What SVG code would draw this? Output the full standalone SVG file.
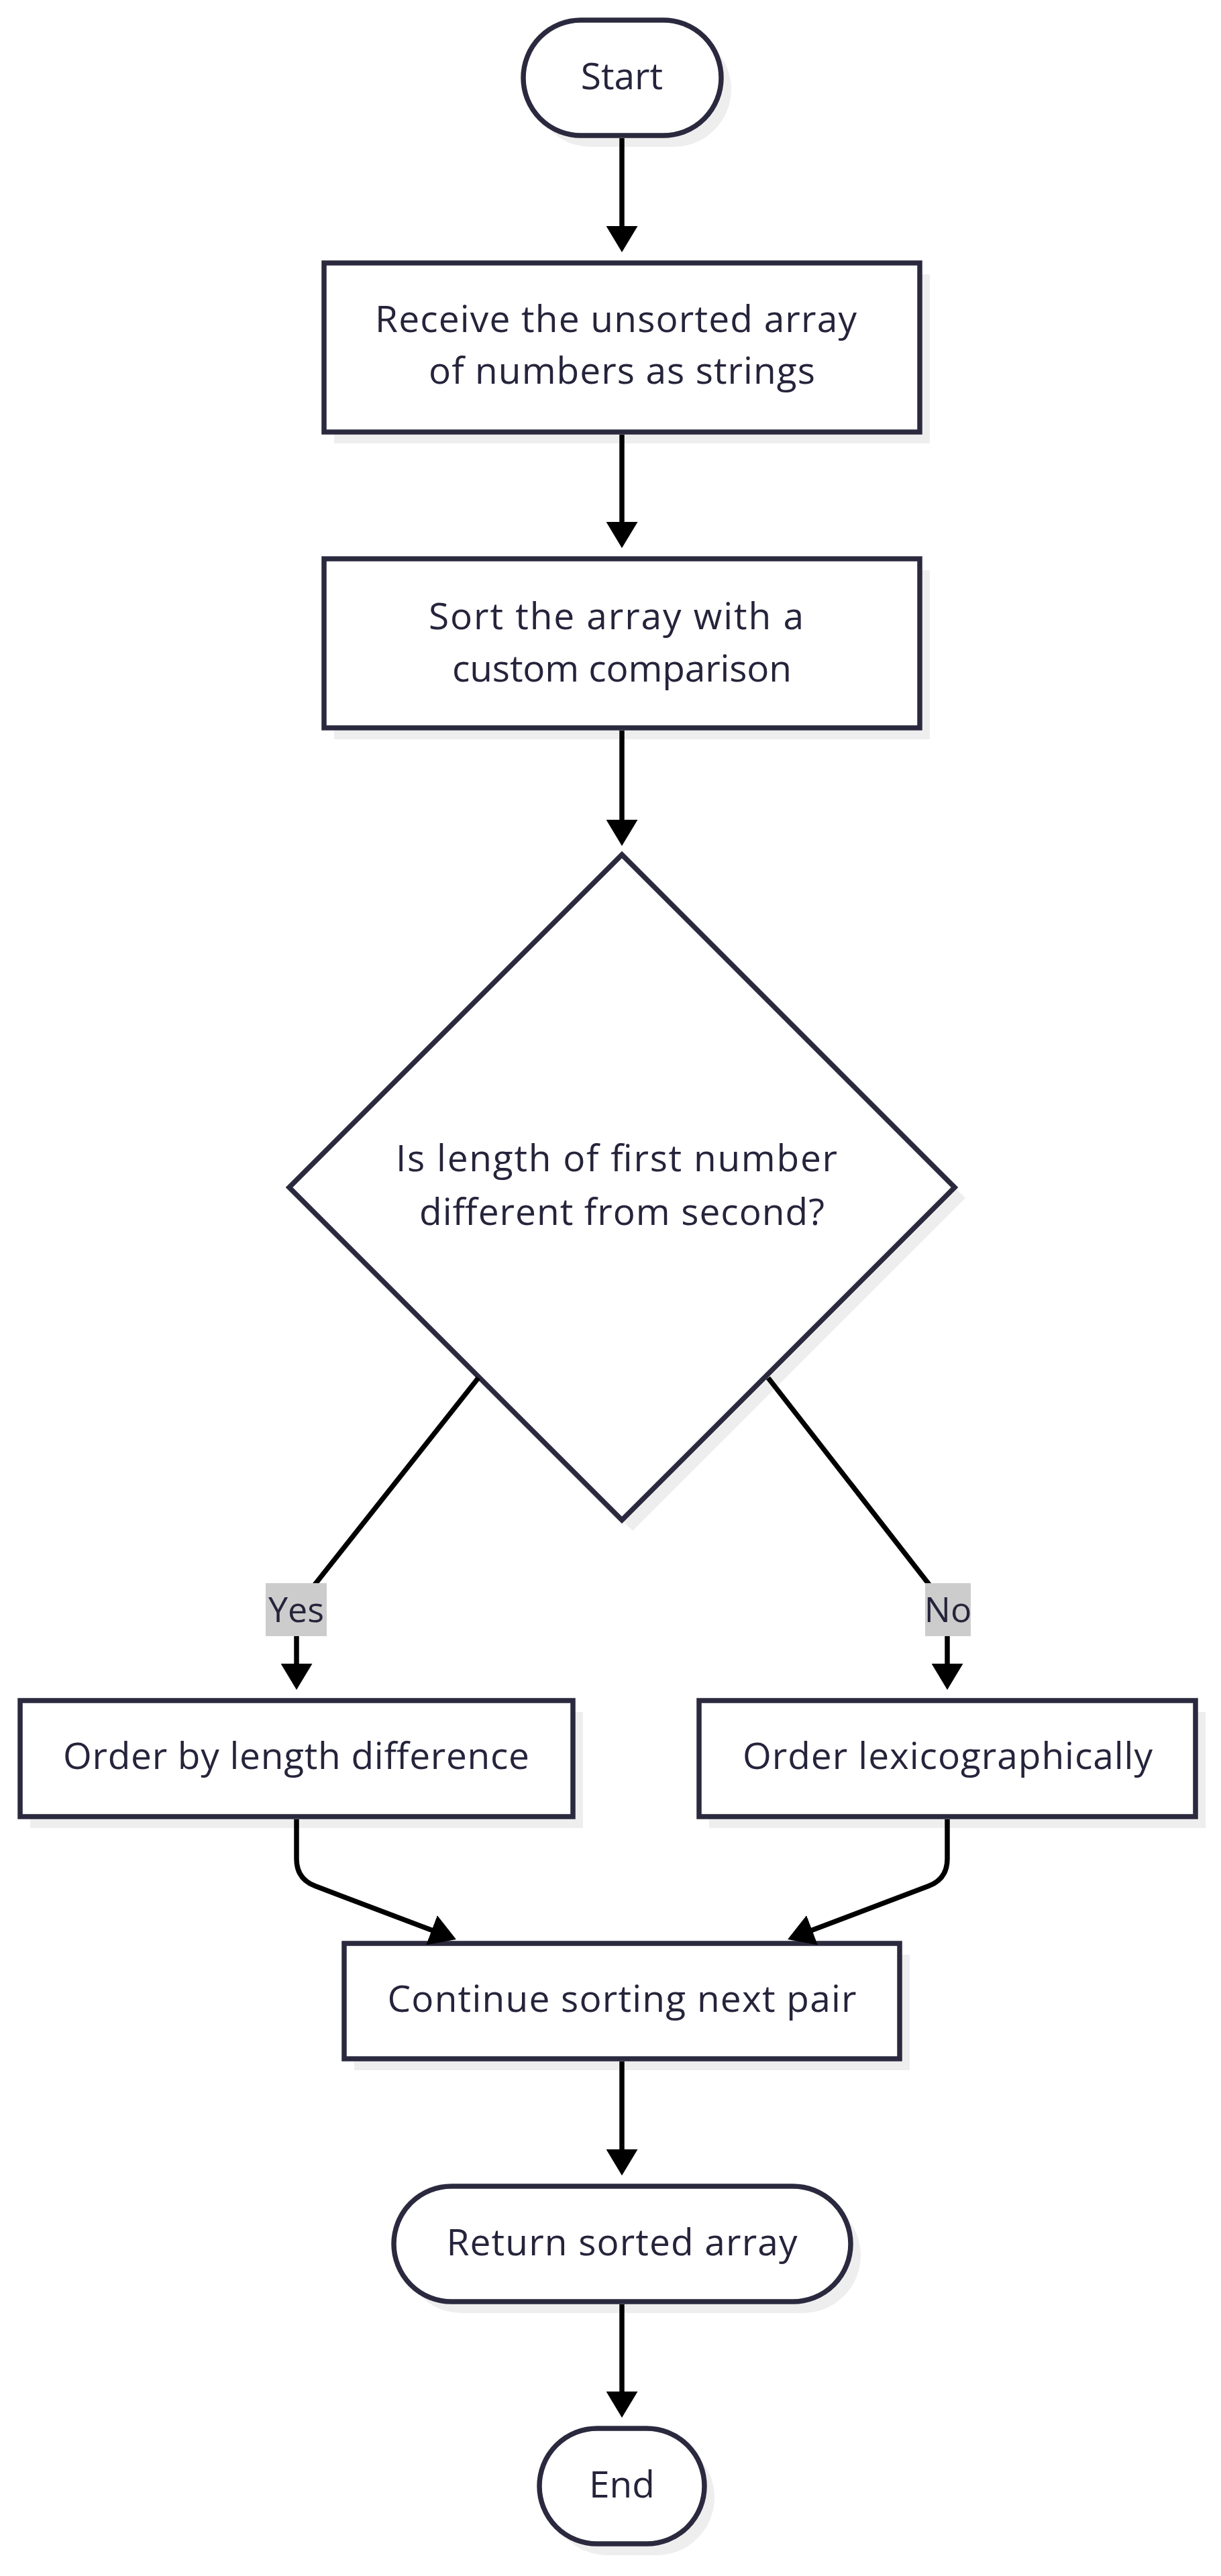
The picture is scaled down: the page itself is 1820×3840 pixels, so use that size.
<svg xmlns="http://www.w3.org/2000/svg" width="1820" height="3840" viewBox="0 0 1820 3840">
<defs>
<style>
.shadow{fill:#eeeeee;stroke:none}
.node{fill:#ffffff;stroke:#2a293e;stroke-width:7.5}
.t{font-family:"Open Sans","Liberation Sans",sans-serif;font-size:55px;fill:#25243b;text-anchor:middle}
.lt{font-family:"Open Sans","Liberation Sans",sans-serif;font-size:52px;fill:#25243b;text-anchor:middle}
.edge{fill:none;stroke:#000000;stroke-width:7.5}
.lbl{fill:#cccccc}
</style>
<marker id="arrow" markerUnits="userSpaceOnUse" viewBox="0 0 39 47" markerWidth="39" markerHeight="47" refX="29" refY="23.5" orient="auto">
<path d="M0,0 L39,23.5 L0,47 z" fill="#000000"/>
</marker>
</defs>
<rect width="1820" height="3840" fill="#ffffff"/>

<g id="node-start">
<rect class="shadow" x="795" y="47" width="295" height="172" rx="86"/>
<rect class="node" x="780" y="30" width="295" height="172" rx="86"/>
<text class="t" x="927" y="133">Start</text>
</g>

<g id="node-receive">
<rect class="shadow" x="498" y="409" width="888" height="252"/>
<rect class="node" x="483" y="392" width="888" height="252"/>
<text class="t" x="918" y="495" textLength="718" lengthAdjust="spacing">Receive the unsorted array</text>
<text class="t" x="927" y="572" textLength="576" lengthAdjust="spacing">of numbers as strings</text>
</g>

<g id="node-sort">
<rect class="shadow" x="498" y="850" width="888" height="252"/>
<rect class="node" x="483" y="833" width="888" height="252"/>
<text class="t" x="918.5" y="938" textLength="559" lengthAdjust="spacing">Sort the array with a</text>
<text class="t" x="927" y="1016" textLength="506" lengthAdjust="spacing">custom comparison</text>
</g>

<g id="node-decision">
<polygon class="shadow" points="943,1290 1439,1786 943,2282 447,1786"/>
<polygon class="node" points="927,1274 1423,1770 927,2266 431,1770"/>
<text class="t" x="919" y="1746" textLength="658" lengthAdjust="spacing">Is length of first number</text>
<text class="t" x="927" y="1826" textLength="604" lengthAdjust="spacing">different from second?</text>
</g>

<g id="node-length">
<rect class="shadow" x="45" y="2552" width="824" height="173"/>
<rect class="node" x="30" y="2535" width="824" height="173"/>
<text class="t" x="441.5" y="2637" textLength="695" lengthAdjust="spacing">Order by length difference</text>
</g>

<g id="node-lexico">
<rect class="shadow" x="1057" y="2552" width="740" height="173"/>
<rect class="node" x="1042" y="2535" width="740" height="173"/>
<text class="t" x="1412.5" y="2637" textLength="611" lengthAdjust="spacing">Order lexicographically</text>
</g>

<g id="node-continue">
<rect class="shadow" x="528" y="2914" width="828" height="172"/>
<rect class="node" x="513" y="2897" width="828" height="172"/>
<text class="t" x="927" y="2999" textLength="699" lengthAdjust="spacing">Continue sorting next pair</text>
</g>

<g id="node-return">
<rect class="shadow" x="602" y="3276" width="681" height="172" rx="86"/>
<rect class="node" x="587" y="3259" width="681" height="172" rx="86"/>
<text class="t" x="927" y="3362" textLength="523" lengthAdjust="spacing">Return sorted array</text>
</g>

<g id="node-end">
<rect class="shadow" x="819" y="3637" width="246" height="172" rx="86"/>
<rect class="node" x="804" y="3620" width="246" height="172" rx="86"/>
<text class="t" x="927" y="3723">End</text>
</g>

<g id="connectors">
<path class="edge" d="M927,206 L927,366" marker-end="url(#arrow)"/>
<path class="edge" d="M927,648 L927,807" marker-end="url(#arrow)"/>
<path class="edge" d="M927,1089 L927,1251" marker-end="url(#arrow)"/>
<path class="edge" d="M713,2054 L455,2380 Q442,2397 442,2420 L442,2509" marker-end="url(#arrow)"/>
<path class="edge" d="M1145,2054 L1399,2380 Q1412,2397 1412,2420 L1412,2509" marker-end="url(#arrow)"/>
<path class="edge" d="M442,2712 L442,2771 Q442,2801 470,2811.6 L670.6,2887.5" marker-end="url(#arrow)"/>
<path class="edge" d="M1412,2712 L1412,2771 Q1412,2801 1384,2811.6 L1183.4,2887.5" marker-end="url(#arrow)"/>
<path class="edge" d="M927,3073 L927,3233" marker-end="url(#arrow)"/>
<path class="edge" d="M927,3435 L927,3594" marker-end="url(#arrow)"/>
<g id="label-yes">
<rect class="lbl" x="396" y="2360" width="91" height="79"/>
<text class="lt" x="441.5" y="2418">Yes</text>
</g>
<g id="label-no">
<rect class="lbl" x="1379" y="2360" width="68" height="79"/>
<text class="lt" x="1413" y="2418">No</text>
</g>
</g>
</svg>
